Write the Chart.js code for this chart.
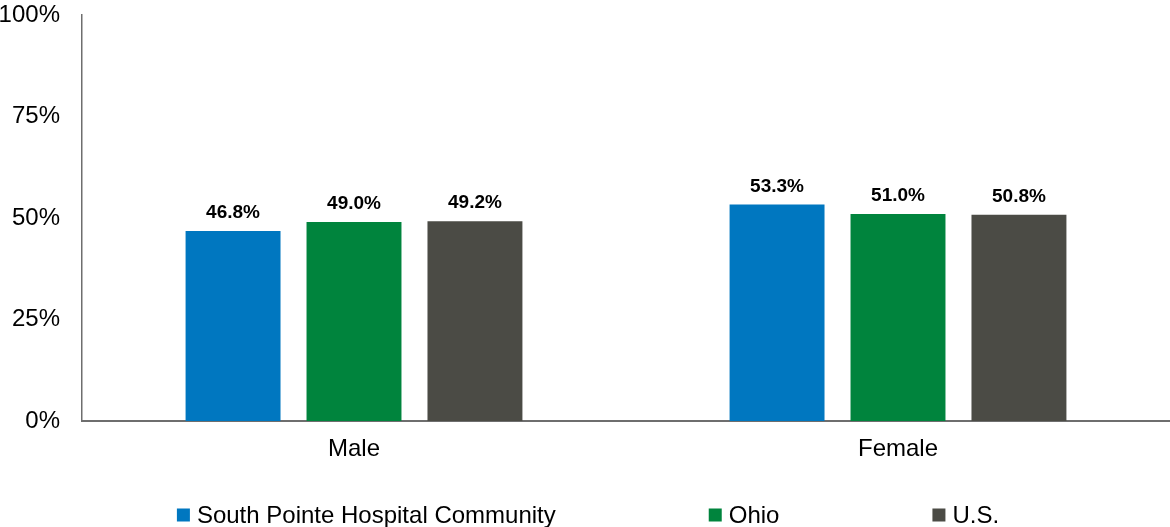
<!DOCTYPE html>
<html><head><meta charset="utf-8">
<script src="https://cdn.jsdelivr.net/npm/chart.js@4/dist/chart.umd.min.js"></script>
<style>html,body{margin:0;padding:0;background:#fff;}#wrap{width:1170px;height:527px;position:relative;}</style>
</head><body><div id="wrap"><canvas id="c" width="1170" height="527"></canvas></div>
<script>
const categories = ["Male", "Female"];
const seriesNames = ["South Pointe Hospital Community", "Ohio", "U.S."];
const southPointe = [46.8, 53.3];
const ohio = [49.0, 51.0];
const us = [49.2, 50.8];
const tickValues = [0, 25, 50, 75, 100];
const colors = ["#0077C0", "#00843D", "#4B4B45"];
const FONT = "'Liberation Sans', Arial, sans-serif";

const valueLabels = {
  id: 'valueLabels',
  afterDatasetsDraw(chart) {
    const ctx = chart.ctx;
    ctx.save();
    ctx.font = "bold 19px " + FONT;
    ctx.fillStyle = "#000";
    ctx.textAlign = "center";
    ctx.textBaseline = "alphabetic";
    chart.data.datasets.forEach((ds, di) => {
      chart.getDatasetMeta(di).data.forEach((bar, i) => {
        ctx.fillText(ds.data[i].toFixed(1) + "%", bar.x, bar.y - 13);
      });
    });
    ctx.restore();
  }
};

const bottomLegend = {
  id: 'bottomLegend',
  afterDraw(chart) {
    const ctx = chart.ctx;
    ctx.save();
    ctx.font = "24px " + FONT;
    const box = 13, gapText = 7, gapItem = 153;
    const items = chart.data.datasets.map(d => ({t: d.label, c: d.backgroundColor, w: box + gapText + ctx.measureText(d.label).width}));
    const total = items.reduce((s, it) => s + it.w, 0) + gapItem * (items.length - 1);
    let x = (chart.width - total) / 2 + 3;
    const y = 515;
    items.forEach(it => {
      ctx.fillStyle = it.c;
      ctx.fillRect(x, y - box / 2, box, box);
      ctx.fillStyle = "#000";
      ctx.textBaseline = "middle";
      ctx.textAlign = "left";
      ctx.fillText(it.t, x + box + gapText, y + 1);
      x += it.w + gapItem;
    });
    ctx.restore();
  }
};

new Chart(document.getElementById('c'), {
  type: 'bar',
  data: {
    labels: categories,
    datasets: [
      {label: seriesNames[0], data: southPointe, backgroundColor: colors[0]},
      {label: seriesNames[1], data: ohio, backgroundColor: colors[1]},
      {label: seriesNames[2], data: us, backgroundColor: colors[2]}
    ]
  },
  options: {
    responsive: false,
    animation: false,
    devicePixelRatio: 1,
    layout: {padding: {top: 0, right: 0, bottom: 64, left: 0}},
    datasets: {bar: {categoryPercentage: 0.667, barPercentage: 0.785}},
    plugins: {legend: {display: false}, tooltip: {enabled: false}},
    scales: {
      x: {
        grid: {display: false, drawTicks: false},
        border: {display: true, color: "#6e6e6e", width: 2},
        ticks: {font: {family: FONT, size: 24}, color: "#000", padding: 14},
        afterFit(scale) { scale.height = 42; scale.paddingLeft = 0; scale.paddingRight = 0; }
      },
      y: {
        min: 0, max: 100,
        afterBuildTicks(scale) { scale.ticks = tickValues.map(v => ({value: v})); },
        grid: {display: false, drawTicks: false},
        border: {display: true, color: "#6e6e6e", width: 1.5},
        ticks: {font: {family: FONT, size: 24}, color: "#000", padding: 22, callback: v => v + "%"},
        afterFit(scale) { scale.width = 82; scale.paddingTop = 15; scale.paddingBottom = 0; }
      }
    }
  },
  plugins: [valueLabels, bottomLegend]
});
</script></body></html>
